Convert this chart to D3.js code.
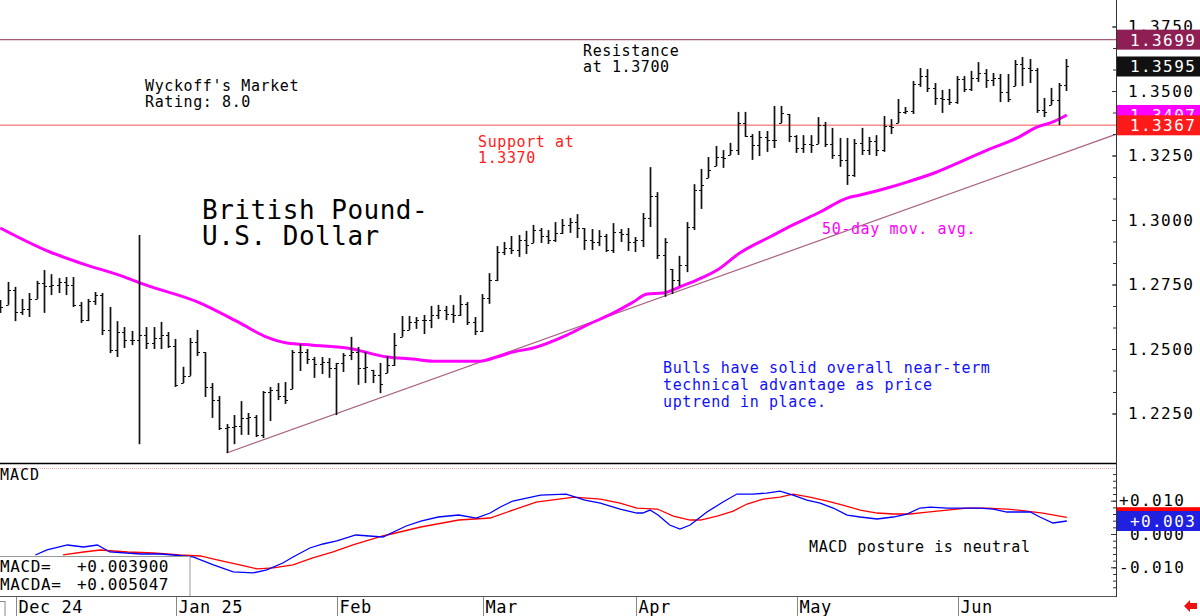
<!DOCTYPE html>
<html><head><meta charset="utf-8">
<script src="https://cdn.jsdelivr.net/npm/d3@7/dist/d3.min.js"></script>
<style>
html,body{margin:0;padding:0;background:#fff;}
svg{display:block;}
text{font-family:'DejaVu Sans Mono',monospace;}
</style></head>
<body><svg id="c" width="1200" height="616"></svg>
<script>
// ---------- DATA ----------
const monthLabels = ["Dec 24","Jan 25","Feb","Mar","Apr","May","Jun"];
const monthStartIdx = [2,24,46,66,87,109,131];

const highs = [1.2690,1.2760,1.2741,1.2694,1.2717,1.2764,1.2806,1.2790,1.2775,1.2779,1.2779,1.2682,1.2694,1.2721,1.2717,1.2663,1.2608,1.2585,1.2570,1.2942,
1.2585,1.2585,1.2605,1.2566,1.2539,1.2431,1.2543,1.2574,1.2488,1.2368,1.2318,1.2209,1.2244,1.2298,1.2252,1.2244,1.2337,1.2353,1.2368,1.2372,
1.2496,1.2519,1.2500,1.2469,1.2469,1.2465,1.2446,1.2484,1.2547,1.2508,1.2488,1.2419,1.2446,1.2473,1.2562,1.2628,1.2628,1.2624,1.2632,1.2667,
1.2671,1.2667,1.2671,1.2709,1.2682,1.2624,1.2713,1.2794,1.2899,1.2915,1.2938,1.2942,1.2958,1.2981,1.2969,1.2961,1.2992,1.3004,1.3008,1.3023,
1.2969,1.2965,1.2961,1.2946,1.2988,1.2965,1.2969,1.2934,1.3027,1.3205,1.3108,1.2930,1.2810,1.2861,1.2992,1.3139,1.3198,1.3244,1.3287,1.3271,
1.3299,1.3419,1.3419,1.3333,1.3345,1.3345,1.3442,1.3442,1.3411,1.3329,1.3329,1.3329,1.3399,1.3380,1.3357,1.3318,1.3318,1.3314,1.3357,1.3322,
1.3329,1.3403,1.3391,1.3469,1.3438,1.3539,1.3589,1.3585,1.3531,1.3504,1.3508,1.3558,1.3558,1.3578,1.3612,1.3585,1.3570,1.3566,1.3566,1.3620,
1.3632,1.3624,1.3589,1.3473,1.3512,1.3531,1.3624];

const lows = [1.2640,1.2671,1.2608,1.2632,1.2624,1.2694,1.2640,1.2709,1.2717,1.2709,1.2663,1.2601,1.2608,1.2671,1.2554,1.2484,1.2469,1.2504,1.2515,1.2131,
1.2500,1.2500,1.2500,1.2504,1.2353,1.2368,1.2396,1.2473,1.2314,1.2233,1.2186,1.2097,1.2131,1.2167,1.2167,1.2159,1.2155,1.2221,1.2302,1.2287,
1.2345,1.2415,1.2442,1.2388,1.2403,1.2388,1.2244,1.2411,1.2457,1.2361,1.2368,1.2368,1.2329,1.2407,1.2434,1.2547,1.2574,1.2578,1.2558,1.2581,
1.2616,1.2612,1.2601,1.2628,1.2593,1.2554,1.2566,1.2675,1.2763,1.2864,1.2868,1.2857,1.2868,1.2911,1.2911,1.2907,1.2915,1.2946,1.2950,1.2930,
1.2884,1.2884,1.2899,1.2876,1.2872,1.2915,1.2880,1.2876,1.2895,1.2973,1.2849,1.2702,1.2713,1.2744,1.2798,1.2961,1.3043,1.3163,1.3209,1.3202,
1.3252,1.3252,1.3322,1.3233,1.3248,1.3264,1.3279,1.3376,1.3302,1.3260,1.3260,1.3260,1.3295,1.3283,1.3237,1.3206,1.3136,1.3167,1.3252,1.3252,
1.3248,1.3264,1.3333,1.3376,1.3411,1.3411,1.3516,1.3496,1.3446,1.3415,1.3446,1.3450,1.3496,1.3500,1.3535,1.3512,1.3519,1.3457,1.3457,1.3519,
1.3519,1.3531,1.3415,1.3399,1.3446,1.3368,1.3500];

const opens = [1.2680,1.2663,1.2729,1.2643,1.2655,1.2694,1.2756,1.2745,1.2748,1.2760,1.2748,1.2671,1.2612,1.2686,1.2709,1.2574,1.2496,1.2566,1.2535,1.2535,
1.2554,1.2523,1.2543,1.2554,1.2512,1.2361,1.2396,1.2527,1.2488,1.2353,1.2302,1.2194,1.2198,1.2202,1.2233,1.2236,1.2167,1.2333,1.2341,1.2318,
1.2302,1.2488,1.2488,1.2461,1.2442,1.2450,1.2426,1.2446,1.2477,1.2488,1.2426,1.2430,1.2399,1.2365,1.2438,1.2515,1.2574,1.2605,1.2612,1.2612,
1.2632,1.2651,1.2636,1.2632,1.2675,1.2605,1.2570,1.2698,1.2767,1.2876,1.2891,1.2884,1.2922,1.2903,1.2961,1.2938,1.2922,1.2950,1.2981,1.2992,
1.2969,1.2922,1.2915,1.2938,1.2884,1.2954,1.2946,1.2915,1.2922,1.3008,1.3093,1.2864,1.2915,1.2767,1.2826,1.2973,1.3116,1.3135,1.3194,1.3244,
1.3240,1.3271,1.3376,1.3326,1.3291,1.3322,1.3310,1.3310,1.3415,1.3326,1.3279,1.3295,1.3291,1.3368,1.3295,1.3252,1.3233,1.3175,1.3298,1.3271,
1.3306,1.3271,1.3364,1.3360,1.3419,1.3422,1.3527,1.3558,1.3512,1.3473,1.3469,1.3457,1.3547,1.3508,1.3551,1.3570,1.3543,1.3551,1.3496,1.3469,
1.3605,1.3589,1.3581,1.3426,1.3419,1.3465,1.3523];

const closes = [1.2663,1.2729,1.2643,1.2655,1.2694,1.2756,1.2745,1.2748,1.2760,1.2748,1.2671,1.2612,1.2686,1.2709,1.2574,1.2496,1.2566,1.2535,1.2535,1.2554,
1.2523,1.2543,1.2554,1.2512,1.2361,1.2396,1.2527,1.2488,1.2353,1.2302,1.2194,1.2198,1.2202,1.2233,1.2236,1.2167,1.2333,1.2341,1.2318,1.2302,
1.2488,1.2488,1.2461,1.2442,1.2450,1.2426,1.2446,1.2477,1.2488,1.2426,1.2430,1.2399,1.2365,1.2438,1.2515,1.2574,1.2605,1.2612,1.2612,1.2632,
1.2651,1.2636,1.2632,1.2675,1.2605,1.2570,1.2698,1.2767,1.2876,1.2891,1.2884,1.2922,1.2903,1.2961,1.2938,1.2922,1.2950,1.2981,1.2992,1.2969,
1.2922,1.2915,1.2938,1.2884,1.2954,1.2946,1.2915,1.2922,1.3008,1.3093,1.2864,1.2915,1.2767,1.2826,1.2973,1.3116,1.3135,1.3194,1.3244,1.3240,
1.3271,1.3376,1.3326,1.3291,1.3322,1.3310,1.3310,1.3415,1.3326,1.3279,1.3295,1.3291,1.3368,1.3295,1.3252,1.3233,1.3175,1.3298,1.3271,1.3306,
1.3271,1.3364,1.3360,1.3419,1.3422,1.3527,1.3558,1.3512,1.3473,1.3469,1.3457,1.3547,1.3508,1.3551,1.3570,1.3543,1.3551,1.3496,1.3469,1.3605,
1.3589,1.3581,1.3426,1.3419,1.3465,1.3523,1.3595];

// 50-day moving average, read at these bar positions
const maIdx = [0,6.8,11,17.4,19.1,27.4,32.8,36.5,39.3,42.8,47.5,53,56.5,59.3,65.7,68,70.2,73,77.6,80.4,84,86.7,88.6,90.8,93.1,95.4,98.2,101.3,105.4,108.6,112.3,116,117.8,121.5,124.2,128.3,130.5,135.2,139.3,142,144.2,146.1];
const maVal = [1.2969,1.2876,1.2833,1.2775,1.2756,1.2678,1.2601,1.2546,1.2523,1.2515,1.2504,1.2469,1.2461,1.2453,1.2453,1.2469,1.2488,1.2504,1.2554,1.2593,1.2640,1.2682,1.2713,1.2717,1.2741,1.2767,1.2806,1.2872,1.2934,1.2981,1.3031,1.3085,1.3097,1.3124,1.3147,1.3186,1.3213,1.3271,1.3318,1.3360,1.3380,1.3407];

// MACD line (blue)
const macdIdx = [4.8,6.4,9.2,11.4,13.3,15.0,19.2,21.9,23.7,26.4,29.2,31.9,34.6,36.5,38.7,40.1,42.4,44.2,46.1,48.7,52.4,55.6,57.6,60,62.8,65.2,67.1,68.5,70.2,74,77.5,80.1,82.2,84.9,87.2,88.0,89.0,90.1,91.7,93.1,94.5,96.8,99.0,100.9,103.1,105.0,106.8,108.6,110.5,112.3,114.1,116.0,117.8,120.1,122.3,124.2,126.0,127.4,129.7,131.5,134.2,136.0,137.9,141.1,142.4,144.2,146.1];
const macdVal = [-0.0063,-0.0048,-0.0033,-0.0039,-0.0033,-0.0054,-0.0060,-0.0060,-0.0063,-0.0069,-0.0093,-0.0114,-0.0117,-0.0108,-0.0087,-0.0069,-0.0042,-0.0030,-0.0021,-0.0003,-0.0009,0.0024,0.0039,0.0051,0.0057,0.0048,0.0063,0.0081,0.0099,0.0117,0.0120,0.0102,0.0093,0.0075,0.0063,0.0063,0.0072,0.0057,0.0027,0.0015,0.0027,0.0066,0.0096,0.0120,0.0120,0.0123,0.0129,0.0117,0.0102,0.0093,0.0078,0.0057,0.0051,0.0045,0.0051,0.0060,0.0078,0.0081,0.0078,0.0078,0.0078,0.0075,0.0066,0.0066,0.0051,0.0033,0.0039];

// MACD average (red)
const macdaIdx = [8.6,11.4,13.7,17.4,21,24.6,27.4,29.7,32.8,35.2,37.4,40.1,42.8,45.6,48.3,52.4,57.6,62.8,67.1,73.4,78.6,82.2,84.9,87.2,90,92.2,94.5,95.9,98.2,100.4,102.3,104.5,106.8,108.6,110.9,113.3,115.4,117.8,120.1,122.3,124.6,127,129.7,132.4,135.2,137.9,140.6,142.8,146.1];
const macdaVal = [-0.0063,-0.0054,-0.0048,-0.0054,-0.0057,-0.0063,-0.0066,-0.0078,-0.0093,-0.0105,-0.0102,-0.0093,-0.0072,-0.0054,-0.0033,-0.0006,0.0021,0.0042,0.0048,0.0096,0.0111,0.0105,0.0093,0.0078,0.0075,0.0054,0.0042,0.0042,0.0054,0.0069,0.0090,0.0105,0.0111,0.0120,0.0111,0.0099,0.0087,0.0072,0.0063,0.0060,0.0060,0.0066,0.0072,0.0078,0.0078,0.0075,0.0069,0.0063,0.0050];

const priceTicks = [1.2250,1.2500,1.2750,1.3000,1.3250,1.3500,1.3750];
const macdTicks = [-0.010,0.000,0.010];
const trendIdx = [31,152.7];
const trendVal = [1.2097,1.3331];
const resistance = 1.3699, support = 1.3367, lastClose = 1.3595, lastMA = 1.3407;
const lastMACD = 0.003900, lastMACDA = 0.005047;
const macdBoxLabels = ["+0.003","+0.005"];

// ---------- DRAW ----------
const svg = d3.select("#c");
const AX = 1116;
const x = d3.scaleLinear().domain([0,146]).range([0.3,1066.1]);
const y = d3.scaleLinear().domain([1.225,1.375]).range([413.5,26.5]);
const ym = d3.scaleLinear().domain([-0.01,0.01]).range([567.3,500.7]);

svg.append("defs").append("clipPath").attr("id","pc").append("rect").attr("x",0).attr("y",0).attr("width",AX).attr("height",463);

// resistance / support lines
svg.append("line").attr("x1",0).attr("x2",AX).attr("y1",y(resistance)).attr("y2",y(resistance)).attr("stroke","#a85878").attr("stroke-width",1.2);
svg.append("line").attr("x1",0).attr("x2",AX).attr("y1",y(support)).attr("y2",y(support)).attr("stroke","#ff8c8c").attr("stroke-width",1.5);

// trendline
svg.append("line").attr("clip-path","url(#pc)")
  .attr("x1",x(trendIdx[0])).attr("y1",y(trendVal[0]))
  .attr("x2",x(trendIdx[1])).attr("y2",y(trendVal[1]))
  .attr("stroke","#a86080").attr("stroke-width",1.2);

// MA
svg.append("path").datum(maIdx.map((d,i)=>[d,maVal[i]]))
  .attr("clip-path","url(#pc)")
  .attr("d",d3.line().x(d=>x(d[0])).y(d=>y(d[1])).curve(d3.curveMonotoneX))
  .attr("fill","none").attr("stroke","#ff00ff").attr("stroke-width",3);

// price bars
const bars = svg.append("g").attr("clip-path","url(#pc)").attr("stroke","#111");
closes.forEach((c,i)=>{
  const xi = Math.round(x(i))+0.5;
  bars.append("line").attr("x1",xi).attr("x2",xi).attr("y1",y(highs[i])).attr("y2",y(lows[i])).attr("stroke-width",1.7);
  const o = Math.max(lows[i],Math.min(highs[i],opens[i]));
  bars.append("line").attr("x1",xi-2.5).attr("x2",xi).attr("y1",Math.round(y(o))+0.5).attr("y2",Math.round(y(o))+0.5).attr("stroke-width",1);
  bars.append("line").attr("x1",xi).attr("x2",xi+2.5).attr("y1",Math.round(y(c))+0.5).attr("y2",Math.round(y(c))+0.5).attr("stroke-width",1);
});

// text annotations
function txt(s,xx,yy,size,color,ls){
  return svg.append("text").attr("x",xx).attr("y",yy).attr("font-size",size).attr("fill",color)
    .style("letter-spacing",(ls||0)+"px").style("white-space","pre").text(s);
}
txt("Wyckoff's Market",145,91,15,"#000",0.6);
txt("Rating: 8.0",145,107,15,"#000",0.6);
txt("Resistance",583,56,15,"#000",0.6);
txt("at 1.3700",583,72,15,"#000",0.6);
txt("Support at",478,147,15,"#ff2020",0.6);
txt("1.3370",478,163,15,"#ff2020",0.6);
txt("British Pound-",202,219,26,"#000",0.5);
txt("U.S. Dollar",202,245,26,"#000",0.5);
txt("50-day mov. avg.",822,234,15,"#ff00ff",0.6);
txt("Bulls have solid overall near-term",663,373,15,"#1010ff",0.6);
txt("technical advantage as price",663,390,15,"#1010ff",0.6);
txt("uptrend in place.",663,407,15,"#1010ff",0.6);

// panel divider
svg.append("line").attr("x1",0).attr("x2",AX).attr("y1",463.5).attr("y2",463.5).attr("stroke","#000").attr("stroke-width",1.5);
svg.append("line").attr("x1",0).attr("x2",AX).attr("y1",468.5).attr("y2",468.5).attr("stroke","#ffaaaa").attr("stroke-width",1).attr("stroke-dasharray","1,1");

txt("MACD",0,480,15,"#000",1);
txt("MACD posture is neutral",809,552,15,"#000",0.6);

// MACD lines
const ml = d3.line().x(d=>x(d[0])).y(d=>ym(d[1]));
svg.append("path").datum(macdaIdx.map((d,i)=>[d,macdaVal[i]])).attr("d",ml)
  .attr("fill","none").attr("stroke","#ff0000").attr("stroke-width",1.3);
svg.append("path").datum(macdIdx.map((d,i)=>[d,macdVal[i]])).attr("d",ml)
  .attr("fill","none").attr("stroke","#0000ff").attr("stroke-width",1.3);

// legend box
svg.append("rect").attr("x",-1).attr("y",556.5).attr("width",191).attr("height",40).attr("fill","#fff").attr("stroke","#999");
txt("MACD=",0,572,16,"#000",0.6);
txt("+"+lastMACD.toFixed(6),77,572,16,"#000",0.6);
txt("MACDA=",0,590,16,"#000",0.6);
txt("+"+lastMACDA.toFixed(6),77,590,16,"#000",0.6);

// bottom axis
svg.append("line").attr("x1",0).attr("x2",AX).attr("y1",596.5).attr("y2",596.5).attr("stroke","#555");
monthStartIdx.forEach((m,i)=>{
  const xm = Math.round(x(m))+1.5;
  svg.append("line").attr("x1",xm).attr("x2",xm).attr("y1",597).attr("y2",616).attr("stroke","#888");
  txt(monthLabels[i],xm+2,613,17,"#000",0.5);
});
svg.append("rect").attr("x",-1).attr("y",601.5).attr("width",6).attr("height",16).attr("fill","none").attr("stroke","#888");

// right axis line
svg.append("line").attr("x1",AX+0.5).attr("x2",AX+0.5).attr("y1",0).attr("y2",597).attr("stroke","#333");

// price axis
const pa = svg.append("g").attr("transform",`translate(${AX},0)`)
  .call(d3.axisRight(y).tickValues(priceTicks).tickSizeInner(-4).tickSizeOuter(0).tickPadding(12).tickFormat(d=>d.toFixed(4)));
pa.select(".domain").remove();
pa.selectAll("text").attr("font-size",16).attr("fill","#000").style("letter-spacing","1.4px").attr("font-family","'DejaVu Sans Mono',monospace");
pa.selectAll("line").attr("stroke","#333");
const minorP = d3.range(0,19).map(k=>1.225+k*0.025/3);
const pm = svg.append("g").attr("transform",`translate(${AX},0)`)
  .call(d3.axisRight(y).tickValues(minorP).tickSizeInner(-3).tickSizeOuter(0).tickFormat(""));
pm.select(".domain").remove(); pm.selectAll("line").attr("stroke","#333");

// macd axis
const minorM = d3.range(-16,20,2).map(k=>k/1000);
const mm = svg.append("g").attr("transform",`translate(${AX},0)`)
  .call(d3.axisRight(ym).tickValues(minorM).tickSizeInner(-3).tickSizeOuter(0).tickFormat(""));
mm.select(".domain").remove(); mm.selectAll("line").attr("stroke","#333");
const ma = svg.append("g").attr("transform",`translate(${AX},0)`)
  .call(d3.axisRight(ym).tickValues(macdTicks).tickSizeInner(-5).tickSizeOuter(0).tickPadding(3)
  .tickFormat(d=> d>0 ? "+"+d.toFixed(3) : d<0 ? "-"+Math.abs(d).toFixed(3) : " "+d.toFixed(3)));
ma.select(".domain").remove();
ma.selectAll("text").attr("font-size",16).attr("fill","#000").style("letter-spacing","1.4px").style("white-space","pre").attr("font-family","'DejaVu Sans Mono',monospace");
ma.selectAll("line").attr("stroke","#333");

// value boxes
function vbox(yc,bg,label){
  svg.append("rect").attr("x",AX+1).attr("y",yc-10).attr("width",1200-AX).attr("height",20).attr("fill",bg);
  svg.append("text").attr("x",1130).attr("y",yc+6).attr("font-size",16).attr("fill","#fff")
    .style("letter-spacing","1.4px").style("white-space","pre").text(label);
}
vbox(y(resistance),"#8e1f55",resistance.toFixed(4));
vbox(y(lastClose),"#111111",lastClose.toFixed(4));
vbox(y(lastMA),"#ff00ff",lastMA.toFixed(4));
vbox(y(support),"#ff1a1a",support.toFixed(4));
vbox(ym(lastMACDA),"#ff0000",macdBoxLabels[1]);
vbox(ym(lastMACD),"#2020e0",macdBoxLabels[0]);

// red arrow
svg.append("path").attr("d","M1184,606 L1190,600 L1190,603 L1197,603 L1197,609 L1190,609 L1190,612 Z").attr("fill","#ee1111");
</script>
</body></html>
